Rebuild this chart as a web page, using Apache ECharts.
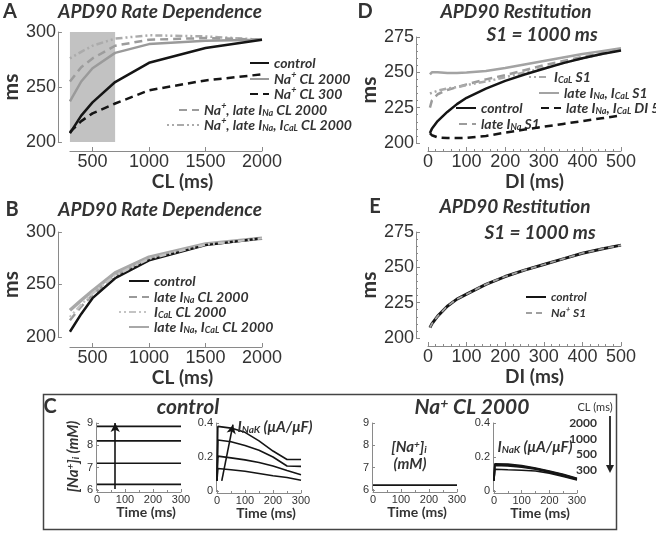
<!DOCTYPE html>
<html><head><meta charset="utf-8">
<script src="https://cdn.jsdelivr.net/npm/echarts@6/dist/echarts.min.js"></script>
<style>html,body{margin:0;padding:0;background:#fff;}#chart{width:656px;height:533px;}</style>
</head><body><div id="chart"></div>
<script>
// ---------------- data ----------------
// Panel A: APD90 rate dependence (CL in ms, APD90 in ms)
const clA = [300, 400, 500, 700, 1000, 1500, 2000];
const shadeCL = [300, 700];
const shadeAPD = [200, 300];
const apdA_control = [208, 224, 236, 254.5, 272, 285.5, 293];
const apdA_NaCL2000 = [237, 255, 267, 281, 289, 292, 293];
const apdA_NaCL300 = [209, 219, 226, 235, 247, 256, 261.5];
const apdA_NaLateINa = [255, 268, 276, 287.5, 293, 294.5, 293];
const apdA_NaLateINaICaL = [276, 282, 287.5, 294, 297, 296, 293];
const clTicks = [500, 1000, 1500, 2000];

// Panel B
const clB = [300, 400, 500, 700, 1000, 1500, 2000];
const apdB_control = [205, 222, 237, 256, 273, 287.5, 294];
const apdB_lateINa = [216, 229, 240, 258, 274, 288, 294];
const apdB_ICaL = [219, 231, 241.5, 258.5, 274.5, 288, 294];
const apdB_lateINaICaL = [225.5, 235, 244, 261, 276, 288.6, 294];

// Panel D: restitution (DI in ms)
const diD = [5, 10, 25, 50, 75, 100, 150, 200, 250, 300, 350, 400, 450, 500];
const apdD_control = [207, 210, 215.5, 222, 227.5, 232, 238.5, 244, 248.5, 252.5, 256.5, 260, 263, 265.5];
const apdD_ICaL = [235, 236, 237, 238.5, 239.5, 241, 243.5, 246.5, 250, 253, 256.5, 260, 263, 266];
const apdD_lateINaICaL = [248.5, 250, 250, 249.5, 249.5, 249.8, 251, 253, 255.5, 258, 260.5, 263, 265, 267];
const apdD_lateINaICaL_DI5 = [207, 205.5, 204, 203.5, 203.5, 203.7, 205, 207.3, 209.5, 211.5, 213.5, 215.5, 217.5, 219.5];
const apdD_lateINa = [225, 230, 234.5, 237.5, 239.5, 241.5, 245, 248, 251.5, 255, 258, 261, 263.5, 266];

// Panel E
const diE = [5, 10, 25, 50, 75, 100, 150, 200, 250, 300, 350, 400, 450, 500];
const apdE_control = [207.3, 210, 215.5, 222.5, 227.5, 231, 238, 243.5, 248, 252, 256, 260, 263, 265.7];
const apdE_NaS1 = [207.3, 210, 215.5, 222.5, 227.5, 231, 238, 243.5, 248, 252, 256, 260, 263, 265.7];

// Panel C: [Na+]i (mM) and INaK (uA/uF) over time (ms), one per CL
const timeNai = [0, 300];
const naiCtl2000 = 6.25, naiCtl1000 = 7.2, naiCtl500 = 8.2, naiCtl300 = 8.85;
const naiNa = 6.22;
const naiArrowT = 65, naiArrowFrom = 6.05, naiArrowTo = 9.0;
const timeNaK = [0, 3, 50, 100, 150, 200, 250, 300];
const inakCtl300 = [0.06, 0.38, 0.37, 0.345, 0.295, 0.235, 0.185, 0.185];
const inakCtl500 = [0.06, 0.30, 0.29, 0.268, 0.24, 0.20, 0.147, 0.145];
const inakCtl1000 = [0.06, 0.205, 0.195, 0.183, 0.168, 0.147, 0.12, 0.095];
const inakCtl2000 = [0.06, 0.132, 0.125, 0.116, 0.103, 0.09, 0.079, 0.063];
const inakNa300 = [0.06, 0.16, 0.158, 0.15, 0.135, 0.118, 0.098, 0.075];
const inakNa500 = [0.06, 0.155, 0.152, 0.145, 0.132, 0.115, 0.095, 0.072];
const inakNa1000 = [0.06, 0.15, 0.148, 0.14, 0.128, 0.11, 0.09, 0.068];
const inakNa2000 = [0.06, 0.128, 0.125, 0.122, 0.118, 0.105, 0.085, 0.065];
const inakArrowT = [17, 57], inakArrowV = [0.06, 0.39];
const clLegend = ['2000', '1000', '500', '300'];

// ---------------- styling helpers ----------------
const CAL = 'Lato, "Open Sans", "DejaVu Sans", sans-serif';
const ARI = '"Liberation Sans", Arial, sans-serif';
const TXT = '#333';

function richStyles(fs, color) {
  const s = Math.round(fs * 0.66);
  const l = Math.round(fs * 0.55);
  return {
    sub: {fontSize: s, fontFamily: CAL, fontWeight: 'bold', fontStyle: 'italic', color: color, verticalAlign: 'bottom', lineHeight: l},
    sup: {fontSize: s, fontFamily: CAL, fontWeight: 'bold', fontStyle: 'italic', color: color, verticalAlign: 'top', lineHeight: l}
  };
}
function fmt(s) {
  return s.replace(/ICaL/g, 'I{sub|CaL}').replace(/INaK/g, 'I{sub|NaK}').replace(/INa/g, 'I{sub|Na}')
          .replace(/Na\+/g, 'Na{sup|+}').replace(/\]i/g, ']{sub|i}');
}
function pairs(xs, ys) { return xs.map((x, i) => [x, ys[i]]); }
function flat(xs, v) { return xs.map(x => [x, v]); }

function ln(name, gi, xs, ys, color, width, type, z) {
  return {
    type: 'line', name: name, xAxisIndex: gi, yAxisIndex: gi, data: pairs(xs, ys),
    symbol: 'none', showSymbol: false, smooth: false, silent: true, z: z || 2,
    lineStyle: {color: color, width: width, type: type || 'solid', cap: 'butt'},
    itemStyle: {color: color}
  };
}
const DASH = [8, 5];
const DOTDASH = [2, 3, 2, 3, 7, 3];

const plainNum = v => String(v);

function axisBase(extra) {
  return Object.assign({
    type: 'value', splitLine: {show: false},
    axisLine: {show: true, onZero: false, lineStyle: {color: '#8a8a8a', width: 1}},
    axisTick: {show: true, inside: true, length: 4, lineStyle: {color: '#8a8a8a'}},
    minorTick: {show: false},
    axisLabel: {color: TXT, fontFamily: ARI, fontSize: 18, margin: 2, formatter: plainNum},
    nameTextStyle: {color: TXT, fontFamily: CAL, fontWeight: 'bold', fontSize: 19}
  }, extra);
}

function leg(name, left, yc, w, fs) {
  return {
    data: [name], left: left, top: yc - 8, orient: 'vertical', itemWidth: w, itemHeight: 10,
    itemGap: 0, padding: 0, selectedMode: false,
    itemStyle: {opacity: 0, borderWidth: 0},
    formatter: n => fmt(n),
    textStyle: {fontFamily: CAL, fontSize: fs, fontWeight: 'bold', fontStyle: 'italic', color: TXT, lineHeight: 16, rich: richStyles(fs, TXT)}
  };
}
function gtext(x, y, text, o) {
  return {type: 'text', x: x, y: y, silent: true, z: 50,
    style: Object.assign({text: text, fill: TXT, fontFamily: CAL, fontSize: 14, fontWeight: 'bold', fontStyle: 'italic',
      align: 'center', verticalAlign: 'middle'}, o || {})};
}

// ---------------- grids & axes ----------------
const grids = [
  {left: 69, top: 32, width: 193, height: 110},   // A
  {left: 69, top: 232, width: 193, height: 105},  // B
  {left: 428, top: 37, width: 193, height: 106},  // D
  {left: 428, top: 232, width: 193, height: 106}, // E
  {left: 97, top: 423, width: 84, height: 67},    // C1
  {left: 217, top: 423, width: 84, height: 68},   // C2
  {left: 373, top: 423, width: 84, height: 67},   // C3
  {left: 494, top: 423, width: 83, height: 68}    // C4
];

const cX = (gi, pad) => axisBase({gridIndex: gi, min: 0, max: 300, interval: 100, offset: 2,
  axisLabel: {color: TXT, fontFamily: ARI, fontSize: 11, margin: 2, formatter: plainNum},
  axisTick: {show: true, inside: true, length: 3, lineStyle: {color: '#8a8a8a'}},
  minorTick: {show: true, splitNumber: 2, length: 2, lineStyle: {color: '#8a8a8a'}},
  name: 'Time (ms)', nameLocation: 'middle', nameGap: 12,
  nameTextStyle: {color: TXT, fontFamily: CAL, fontWeight: 'bold', fontSize: 14, padding: [0, 0, 0, pad]}});

const clAxis = (gi, off) => axisBase({gridIndex: gi, min: 300, max: 2000, offset: off,
  axisLabel: {color: TXT, fontFamily: ARI, fontSize: 18, margin: 2, customValues: clTicks, formatter: plainNum},
  axisTick: {show: true, inside: true, length: 4, lineStyle: {color: '#8a8a8a'}, customValues: clTicks},
  name: 'CL (ms)', nameLocation: 'middle', nameGap: 14,
  nameTextStyle: {color: TXT, fontFamily: CAL, fontWeight: 'bold', fontSize: 19, padding: [0, 0, 0, 33]}});
const diAxis = (gi) => axisBase({gridIndex: gi, min: 0, max: 500, interval: 100, offset: 8,
  minorTick: {show: true, splitNumber: 5, length: 2, lineStyle: {color: '#8a8a8a'}},
  name: 'DI (ms)', nameLocation: 'middle', nameGap: 15,
  nameTextStyle: {color: TXT, fontFamily: CAL, fontWeight: 'bold', fontSize: 19, padding: [0, 0, 0, 20]}});

const xAxes = [clAxis(0, 9), clAxis(1, 10), diAxis(2), diAxis(3), cX(4, 14), cX(5, 14), cX(6, 4), cX(7, 9)];

const yMs = (gi, min, max, iv, minor) => axisBase({gridIndex: gi, min: min, max: max, interval: iv, offset: 12,
  minorTick: {show: !!minor, splitNumber: 5, length: 2, lineStyle: {color: '#8a8a8a'}},
  name: 'ms', nameLocation: 'middle', nameRotate: 90, nameGap: 33,
  nameTextStyle: {color: TXT, fontFamily: CAL, fontWeight: 'bold', fontSize: 21}});
const cY = (gi, min, max, iv, nm) => axisBase({gridIndex: gi, min: min, max: max, interval: iv, offset: 1,
  axisLabel: {color: TXT, fontFamily: ARI, fontSize: 11, margin: 3, formatter: plainNum},
  axisTick: {show: true, inside: true, length: 3, lineStyle: {color: '#8a8a8a'}},
  name: nm ? fmt(nm) : '', nameLocation: 'middle', nameRotate: 90, nameGap: 15,
  nameTextStyle: {color: TXT, fontFamily: CAL, fontWeight: 'bold', fontStyle: 'italic', fontSize: 15, rich: richStyles(15, TXT)}});

const yAxes = [
  yMs(0, 200, 300, 50, false),
  yMs(1, 200, 300, 50, false),
  yMs(2, 200, 275, 25, true),
  yMs(3, 200, 275, 25, true),
  cY(4, 6, 9, 1, '[Na+]i (mM)'),
  cY(5, 0, 0.4, 0.2, ''),
  cY(6, 6, 9, 1, ''),
  cY(7, 0, 0.4, 0.2, '')
];

// ---------------- series ----------------
const BLK = '#151515';
const controlA = ln('control', 0, clA, apdA_control, BLK, 2.5, 'solid', 6);
controlA.markArea = {silent: true, itemStyle: {color: '#c2c2c2', opacity: 1}, label: {show: false},
  data: [[{coord: [shadeCL[0], shadeAPD[0]]}, {coord: [shadeCL[1], shadeAPD[1]]}]]};

const series = [
  // A
  ln('Na+, late INa, ICaL CL 2000', 0, clA, apdA_NaLateINaICaL, '#ababab', 2.5, DOTDASH, 3),
  ln('Na+, late INa CL 2000', 0, clA, apdA_NaLateINa, '#9c9c9c', 2.5, DASH, 3),
  ln('Na+ CL 2000', 0, clA, apdA_NaCL2000, '#9a9a9a', 2.5, 'solid', 4),
  ln('Na+ CL 300', 0, clA, apdA_NaCL300, BLK, 2.5, DASH, 5),
  controlA,
  // B
  ln('late INa, ICaL CL 2000', 1, clB, apdB_lateINaICaL, '#a8a8a8', 3.5, 'solid', 3),
  ln('late INa CL 2000', 1, clB, apdB_lateINa, '#9a9a9a', 2.5, DASH, 4),
  ln('control', 1, clB, apdB_control, BLK, 2.5, 'solid', 5),
  ln('ICaL CL 2000', 1, clB, apdB_ICaL, '#c4c4c4', 2.5, DOTDASH, 6),
  // D
  ln('late INa, ICaL S1', 2, diD, apdD_lateINaICaL, '#a3a3a3', 2.5, 'solid', 3),
  ln('late INa S1', 2, diD, apdD_lateINa, '#9c9c9c', 2.5, DASH, 4),
  ln('ICaL S1', 2, diD, apdD_ICaL, '#aaaaaa', 2.5, DOTDASH, 4),
  ln('late INa, ICaL DI 5', 2, diD, apdD_lateINaICaL_DI5, BLK, 2.5, DASH, 5),
  ln('control', 2, diD, apdD_control, BLK, 2.5, 'solid', 6),
  // E
  ln('control', 3, diE, apdE_control, BLK, 3, 'solid', 4),
  ln('Na+ S1', 3, diE, apdE_NaS1, '#a0a0a0', 1.8, [6, 4], 5),
];
// C1 control [Na+]i
[naiCtl2000, naiCtl1000, naiCtl500, naiCtl300].forEach((v, i) => {
  const s = ln('nai ctl ' + clLegend[i], 4, timeNai, [v, v], BLK, 1.6, 'solid', 3);
  s.data = flat(timeNai, v);
  if (i === 0) s.markLine = {silent: true, symbol: ['none', 'arrow'], symbolSize: [7, 9], animation: false,
    lineStyle: {color: BLK, width: 1.6, type: 'solid'}, label: {show: false},
    data: [[{coord: [naiArrowT, naiArrowFrom]}, {coord: [naiArrowT, naiArrowTo]}]]};
  series.push(s);
});
// C2 control INaK
[inakCtl2000, inakCtl1000, inakCtl500, inakCtl300].forEach((arr, i) => {
  const s = ln('inak ctl ' + clLegend[i], 5, timeNaK, arr, BLK, 1.6, 'solid', 3);
  if (i === 0) s.markLine = {silent: true, symbol: ['none', 'arrow'], symbolSize: [7, 9], animation: false,
    lineStyle: {color: BLK, width: 1.6, type: 'solid'}, label: {show: false},
    data: [[{coord: [inakArrowT[0], inakArrowV[0]]}, {coord: [inakArrowT[1], inakArrowV[1]]}]]};
  series.push(s);
});
// C3 Na+ [Na+]i
(function () { const s = ln('nai na', 6, timeNai, [naiNa, naiNa], BLK, 1.8, 'solid', 3); s.data = flat(timeNai, naiNa); series.push(s); })();
// C4 Na+ INaK
[inakNa2000, inakNa1000, inakNa500, inakNa300].forEach((arr, i) => {
  series.push(ln('inak na ' + clLegend[i], 7, timeNaK, arr, BLK, 1.6, 'solid', 3));
});

// ---------------- legends ----------------
const legends = [
  leg('control', 249, 63, 19, 14),
  leg('Na+ CL 2000', 249, 79, 19, 14),
  leg('Na+ CL 300', 249, 94, 19, 14),
  leg('Na+, late INa CL 2000', 178, 110, 20, 14),
  leg('Na+, late INa, ICaL CL 2000', 166, 125, 32, 14),

  leg('control', 128, 281, 20, 14),
  leg('late INa CL 2000', 128, 297, 20, 14),
  leg('ICaL CL 2000', 118, 312, 30, 14),
  leg('late INa, ICaL CL 2000', 128, 327, 20, 14),

  leg('ICaL S1', 528, 77, 20, 14),
  leg('late INa, ICaL S1', 538, 93, 20, 14),
  leg('control', 455, 108, 20, 14),
  leg('late INa, ICaL DI 5', 540, 108, 20, 14),
  leg('late INa S1', 458, 124, 17, 14),

  leg('control', 525, 297, 20, 12),
  leg('Na+ S1', 525, 313, 20, 12)
];

// ---------------- annotations ----------------
const letter = {fontStyle: 'normal', fontSize: 20};
const ttl = {fontSize: 19};
const graphic = [
  {type: 'rect', silent: true, z: 1, shape: {x: 43.5, y: 394.5, width: 573, height: 135},
    style: {fill: 'none', stroke: '#444', lineWidth: 1.5}},
  gtext(10, 12, 'A', letter),
  gtext(12, 210, 'B', letter),
  gtext(365, 12, 'D', letter),
  gtext(375, 207, 'E', letter),
  gtext(50, 407, 'C', letter),
  gtext(160, 12, 'APD90 Rate Dependence', ttl),
  gtext(160, 210, 'APD90 Rate Dependence', ttl),
  gtext(516, 12, 'APD90 Restitution', ttl),
  gtext(542, 35, 'S1 = 1000 ms', ttl),
  gtext(515, 207, 'APD90 Restitution', ttl),
  gtext(540, 233, 'S1 = 1000 ms', ttl),
  gtext(188, 407, 'control', {fontSize: 21}),
  gtext(472, 407, fmt('Na+ CL 2000'), {fontSize: 21, rich: richStyles(21, TXT)}),
  gtext(275, 427, fmt('INaK (μA/μF)'), {fontSize: 15, rich: richStyles(15, TXT)}),
  gtext(535, 447, fmt('INaK (μA/μF)'), {fontSize: 15, rich: richStyles(15, TXT)}),
  gtext(409, 447, fmt('[Na+]i'), {fontSize: 15, rich: richStyles(15, TXT)}),
  gtext(410, 464, '(mM)', {fontSize: 15}),
  gtext(595, 407, 'CL (ms)', {fontSize: 11, fontStyle: 'normal', fontWeight: 'normal'}),
  {type: 'line', silent: true, z: 50, shape: {x1: 610, y1: 416, x2: 610, y2: 468}, style: {stroke: '#222', lineWidth: 1.8}},
  {type: 'polygon', silent: true, z: 50, shape: {points: [[606, 465], [614, 465], [610, 473]]}, style: {fill: '#222'}}
];
clLegend.forEach((t, i) => graphic.push(gtext(597, 423 + i * 15.7, t, {fontSize: 12, fontStyle: 'normal', align: 'right'})));

const chart = echarts.init(document.getElementById('chart'), null, {renderer: 'canvas'});
chart.setOption({
  backgroundColor: '#fff',
  animation: false,
  grid: grids,
  xAxis: xAxes,
  yAxis: yAxes,
  legend: legends,
  series: series,
  graphic: graphic
});
</script></body></html>
